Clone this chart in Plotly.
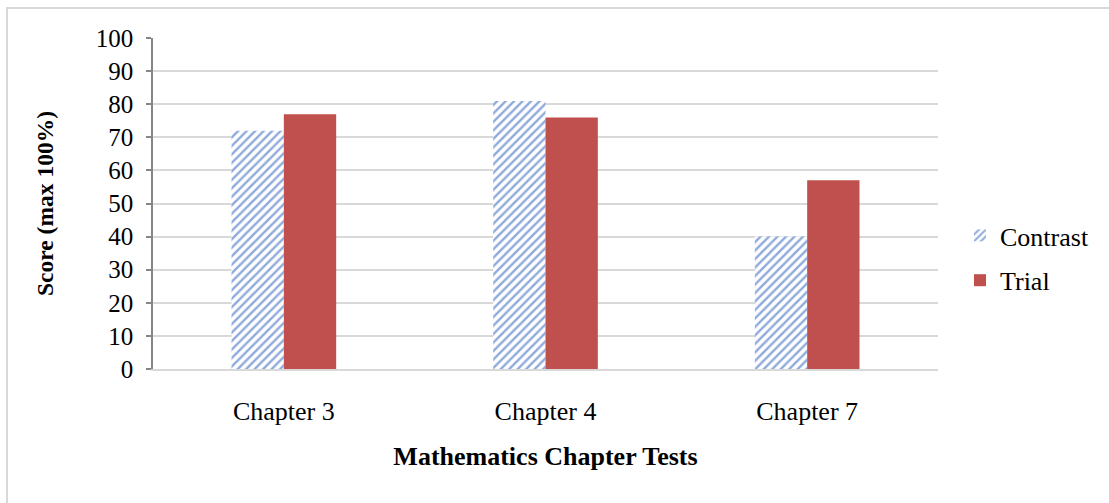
import plotly.graph_objects as go

categories = ["Chapter 3", "Chapter 4", "Chapter 7"]
contrast = [72, 81, 40]
trial = [77, 76, 57]
y_ticks = list(range(0, 101, 10))

W, H = 1109, 503
L, T = 153, 38
pw, ph = 785, 331
R = W - L - pw
B = H - T - ph

def px(x):
    return (x - L) / pw

def py(y):
    return (T + ph - y) / ph

font_family = "Liberation Serif, Times New Roman, serif"

fig = go.Figure()
fig.add_trace(go.Bar(
    name="Contrast", x=categories, y=contrast,
    marker=dict(color="white", line=dict(width=0),
                pattern=dict(shape="/", fgcolor="#8eaadb", bgcolor="white",
                             size=6, solidity=0.4, fillmode="replace")),
    legendgroup="a",
))
fig.add_trace(go.Bar(
    name="Trial", x=categories, y=trial,
    marker=dict(color="#c0504d", line=dict(width=0)),
    legendgroup="b",
))

fig.update_layout(
    width=W, height=H,
    margin=dict(l=L, r=R, t=T, b=B, autoexpand=False),
    paper_bgcolor="white", plot_bgcolor="white",
    font=dict(family=font_family, color="black", size=25),
    barmode="group", bargap=0.6, bargroupgap=0,
    showlegend=True,
    legend=dict(x=px(960), y=py(258), yanchor="middle", xanchor="left",
                font=dict(size=26, family=font_family), tracegroupgap=8,
                bgcolor="rgba(0,0,0,0)", itemwidth=30),
    xaxis=dict(
        showline=True, linecolor="#d9d9d9", linewidth=1.5,
        ticks="", tickfont=dict(size=26), ticklabelstandoff=18,
        title=dict(text="<b>Mathematics Chapter Tests</b>", font=dict(size=26),
                   standoff=22),
        showgrid=False,
    ),
    yaxis=dict(
        range=[0, 100], tickvals=y_ticks, ticktext=[str(v) for v in y_ticks],
        showline=True, linecolor="#868686", linewidth=1.5,
        ticks="outside", ticklen=5, tickcolor="#868686", tickwidth=1.5,
        tickfont=dict(size=25), ticklabelstandoff=8,
        showgrid=True, gridcolor="#d9d9d9", gridwidth=1.5,
        zeroline=False,
        title=dict(text="<b>Score (max 100%)</b>", font=dict(size=23.5), standoff=36),
    ),
    shapes=[dict(type="rect", xref="paper", yref="paper",
                 x0=px(7), x1=px(1114), y0=py(508), y1=py(8),
                 line=dict(color="#d9d9d9", width=2), fillcolor="rgba(0,0,0,0)",
                 layer="below")],
)

fig.write_html("out.html", config={"displayModeBar": False},
               post_script="document.body.style.margin='0';document.body.style.padding='0';")
